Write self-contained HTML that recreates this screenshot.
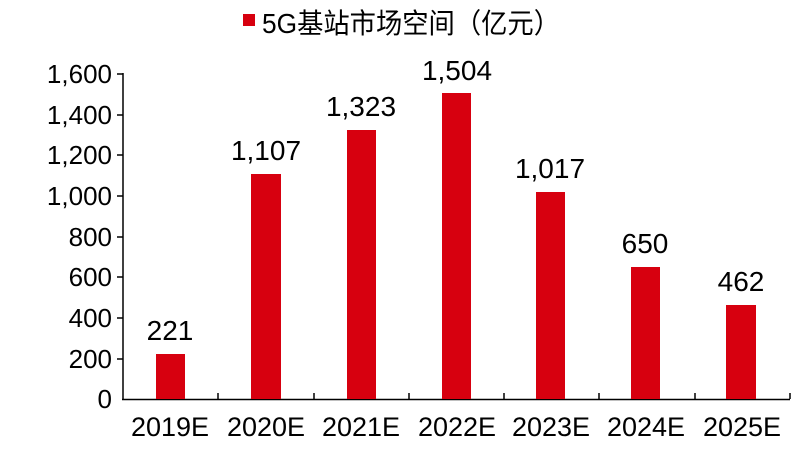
<!DOCTYPE html>
<html><head><meta charset="utf-8"><style>body{margin:0;background:#fff}</style></head><body>
<svg width="800" height="450" xmlns="http://www.w3.org/2000/svg" font-family="Liberation Sans, Noto Sans CJK SC, sans-serif">
<rect x="243" y="14" width="12" height="12" fill="#d7000f"/>
<text x="262" y="33" font-size="28" fill="#000" textLength="298" lengthAdjust="spacingAndGlyphs">5G基站市场空间（亿元）</text>
<g font-size="26" fill="#000" text-anchor="end">
<text x="112" y="408">0</text><text x="112" y="368">200</text><text x="112" y="327">400</text><text x="112" y="286">600</text><text x="112" y="246">800</text><text x="112" y="205">1,000</text><text x="112" y="164">1,200</text><text x="112" y="124">1,400</text><text x="112" y="83">1,600</text>
</g>
<g stroke="#000" stroke-width="1.5">
<line x1="123" y1="73" x2="123" y2="400"/>
<line x1="122" y1="399.5" x2="790" y2="399.5"/>
<line x1="117" y1="74" x2="123" y2="74"/><line x1="117" y1="115" x2="123" y2="115"/><line x1="117" y1="155" x2="123" y2="155"/><line x1="117" y1="196" x2="123" y2="196"/><line x1="117" y1="237" x2="123" y2="237"/><line x1="117" y1="277" x2="123" y2="277"/><line x1="117" y1="318" x2="123" y2="318"/><line x1="117" y1="359" x2="123" y2="359"/>
<line x1="218" y1="393" x2="218" y2="399"/><line x1="314" y1="393" x2="314" y2="399"/><line x1="409" y1="393" x2="409" y2="399"/><line x1="504" y1="393" x2="504" y2="399"/><line x1="599" y1="393" x2="599" y2="399"/><line x1="695" y1="393" x2="695" y2="399"/><line x1="790" y1="393" x2="790" y2="399"/>
</g>
<g fill="#d7000f">
<rect x="156" y="354" width="29" height="45"/>
<rect x="251" y="174" width="30" height="225"/>
<rect x="347" y="130" width="29" height="269"/>
<rect x="442" y="93" width="29" height="306"/>
<rect x="536" y="192" width="29" height="207"/>
<rect x="631" y="267" width="29" height="132"/>
<rect x="726" y="305" width="30" height="94"/>
</g>
<g font-size="28" fill="#000" text-anchor="middle">
<text x="170" y="340">221</text><text x="266" y="160">1,107</text><text x="361" y="116">1,323</text><text x="457" y="80">1,504</text><text x="550" y="178">1,017</text><text x="645" y="253">650</text><text x="741" y="291">462</text>
</g>
<g font-size="27" fill="#000" text-anchor="middle">
<text x="170" y="436">2019E</text><text x="266" y="436">2020E</text><text x="361" y="436">2021E</text><text x="457" y="436">2022E</text><text x="551" y="436">2023E</text><text x="646" y="436">2024E</text><text x="742" y="436">2025E</text>
</g>
</svg>
</body></html>
